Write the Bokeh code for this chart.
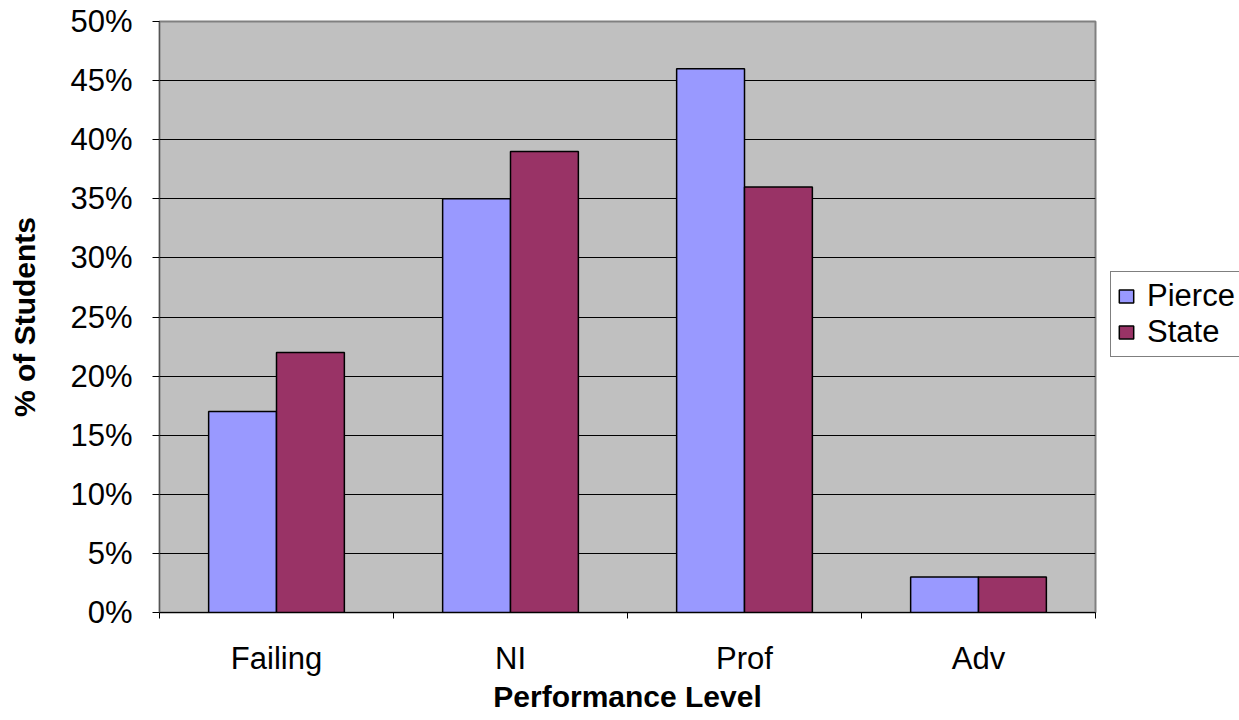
import numpy as np
from bokeh.plotting import figure
from bokeh.models import Range1d, FixedTicker, NumeralTickFormatter, Legend, LegendItem
from bokeh.embed import file_html
from bokeh.resources import INLINE

# ---- data ----
categories = ["Failing", "NI", "Prof", "Adv"]
series_names = ["Pierce", "State"]
pierce = [0.17, 0.35, 0.46, 0.03]
state = [0.22, 0.39, 0.36, 0.03]
y_ticks = [0.0, 0.05, 0.10, 0.15, 0.20, 0.25, 0.30, 0.35, 0.40, 0.45, 0.50]
colors = ["#9999FF", "#993366"]

FONT = "Liberation Sans"
bar_w = 0.29
n = len(categories)
centers = np.arange(n) + 0.5

p = figure(frame_width=936, frame_height=591, output_backend="svg", toolbar_location=None,
           x_range=Range1d(0, n), y_range=Range1d(0, 0.5),
           min_border_left=159, min_border_right=144, min_border_top=21, min_border_bottom=108)

p.background_fill_color = "#C0C0C0"
p.border_fill_color = "white"
p.outline_line_color = "#808080"
p.outline_line_width = 2

r1 = p.vbar(x=centers - bar_w / 2, top=pierce, width=bar_w, fill_color=colors[0],
            line_color="black", line_width=1.5)
r2 = p.vbar(x=centers + bar_w / 2, top=state, width=bar_w, fill_color=colors[1],
            line_color="black", line_width=1.5)

# x axis: labels at centres, tick marks at category boundaries
xa = p.xaxis[0]
xa.ticker = FixedTicker(ticks=list(centers), minor_ticks=list(range(n + 1)))
xa.major_label_overrides = {float(c): lab for c, lab in zip(centers, categories)}
xa.major_tick_out = 0
xa.major_tick_in = 0
xa.minor_tick_out = 6
xa.minor_tick_in = 0
xa.minor_tick_line_color = "black"
xa.axis_line_color = "black"
xa.major_label_text_font = FONT
xa.major_label_text_font_size = "31px"
xa.major_label_text_color = "black"
xa.major_label_standoff = 22
xa.axis_label = "Performance Level"
xa.axis_label_text_font = FONT
xa.axis_label_text_font_style = "bold"
xa.axis_label_text_font_size = "30px"
xa.axis_label_text_color = "black"
xa.axis_label_standoff = 1

ya = p.yaxis[0]
ya.ticker = FixedTicker(ticks=y_ticks)
ya.formatter = NumeralTickFormatter(format="0%")
ya.major_tick_out = 7
ya.major_tick_in = 0
ya.minor_tick_line_color = None
ya.major_tick_line_color = "black"
ya.axis_line_color = "#555555"
ya.major_label_text_font = FONT
ya.major_label_text_font_size = "31px"
ya.major_label_text_color = "black"
ya.major_label_standoff = 20
ya.axis_label = "% of Students"
ya.axis_label_text_font = FONT
ya.axis_label_text_font_style = "bold"
ya.axis_label_text_font_size = "30px"
ya.axis_label_text_color = "black"
ya.axis_label_standoff = 26

p.xgrid.visible = False
p.ygrid.ticker = FixedTicker(ticks=y_ticks)
p.ygrid.grid_line_color = "black"
p.ygrid.grid_line_width = 1

legend = Legend(items=[LegendItem(label=series_names[0], renderers=[r1]),
                       LegendItem(label=series_names[1], renderers=[r2])],
                location=(15, 255))
legend.label_text_font = FONT
legend.label_text_font_size = "31px"
legend.label_text_color = "black"
legend.glyph_width = 18
legend.glyph_height = 16
legend.label_standoff = 12
legend.padding = 6
legend.spacing = 0
legend.label_height = 32
legend.border_line_color = "black"
legend.border_line_width = 1
legend.background_fill_color = "white"
legend.background_fill_alpha = 1
legend.margin = 0
p.add_layout(legend, "right")

open("out.html", "w").write(file_html(p, INLINE))
